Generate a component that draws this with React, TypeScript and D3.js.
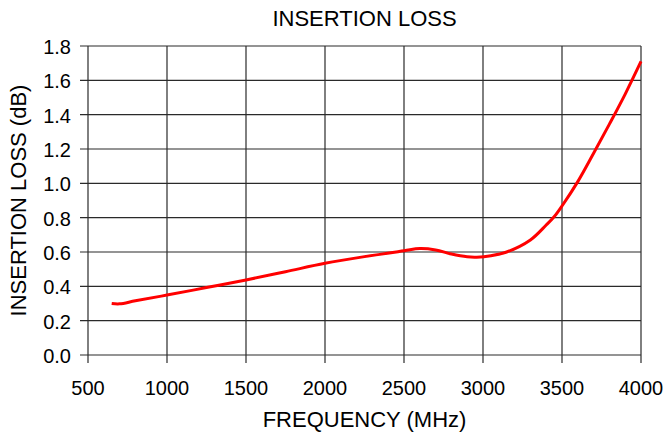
import { useRef, useEffect } from 'react';
import * as d3 from 'd3';

// Insertion loss curve
const frequencyMHz = [
  650, 700, 800, 1000, 1250, 1500, 1750, 2000, 2250, 2500, 2600, 2700, 2800, 2900, 2960,
  3050, 3150, 3300, 3400, 3450, 3500, 3600, 3700, 3800, 3900, 4000,
];
const lossDb = [
  0.3, 0.298, 0.316, 0.349, 0.393, 0.437, 0.485, 0.534, 0.573, 0.607, 0.62, 0.612, 0.588,
  0.572, 0.57, 0.578, 0.6, 0.67, 0.757, 0.805, 0.868, 1.01, 1.175, 1.345, 1.52, 1.71,
];

const xTicks = [500, 1000, 1500, 2000, 2500, 3000, 3500, 4000];
const yTicks = [0, 0.2, 0.4, 0.6, 0.8, 1.0, 1.2, 1.4, 1.6, 1.8];

const chartTitle = 'INSERTION LOSS';
const xTitle = 'FREQUENCY (MHz)';
const yTitle = 'INSERTION LOSS (dB)';

const WIDTH = 667;
const HEIGHT = 433;

export default function App() {
  const svgRef = useRef<SVGSVGElement>(null);

  useEffect(() => {
    if (!svgRef.current) return;
    const svg = d3.select(svgRef.current);
    svg.selectAll('*').remove();

    const margin = { top: 46, right: 26, bottom: 78, left: 88 };
    const innerWidth = WIDTH - margin.left - margin.right;
    const innerHeight = HEIGHT - margin.top - margin.bottom;
    const font = 'Arial, "Liberation Sans", sans-serif';

    svg.append('rect').attr('width', WIDTH).attr('height', HEIGHT).attr('fill', '#fff');

    const g = svg.append('g').attr('transform', `translate(${margin.left},${margin.top})`);

    const xScale = d3.scaleLinear().domain([500, 4000]).range([0, innerWidth]);
    const yScale = d3.scaleLinear().domain([0, 1.8]).range([innerHeight, 0]);

    // grid + tick marks
    yTicks.forEach((t) => {
      g.append('line')
        .attr('x1', -8)
        .attr('x2', innerWidth)
        .attr('y1', yScale(t))
        .attr('y2', yScale(t))
        .attr('stroke', '#2a2a2a')
        .attr('stroke-width', 1.2);
      g.append('text')
        .attr('x', -17)
        .attr('y', yScale(t) + 8)
        .attr('text-anchor', 'end')
        .attr('font-family', font)
        .attr('font-size', '20px')
        .attr('fill', '#000')
        .text(t.toFixed(1));
    });

    xTicks.forEach((t) => {
      g.append('line')
        .attr('x1', xScale(t))
        .attr('x2', xScale(t))
        .attr('y1', 0)
        .attr('y2', innerHeight + 8)
        .attr('stroke', '#2a2a2a')
        .attr('stroke-width', 1.2);
      g.append('text')
        .attr('x', xScale(t))
        .attr('y', innerHeight + 40)
        .attr('text-anchor', 'middle')
        .attr('font-family', font)
        .attr('font-size', '20px')
        .attr('fill', '#000')
        .text(String(t));
    });

    // data line
    const points = frequencyMHz.map((f, i) => ({ x: f, y: lossDb[i] }));
    const line = d3
      .line<{ x: number; y: number }>()
      .x((d) => xScale(d.x))
      .y((d) => yScale(d.y))
      .curve(d3.curveCatmullRom.alpha(0.5));

    g.append('path')
      .datum(points)
      .attr('d', line)
      .attr('fill', 'none')
      .attr('stroke', '#ff0000')
      .attr('stroke-width', 3)
      .attr('stroke-linejoin', 'round');

    // titles
    svg.append('text')
      .attr('x', margin.left + innerWidth / 2)
      .attr('y', 26)
      .attr('text-anchor', 'middle')
      .attr('font-family', font)
      .attr('font-size', '22px')
      .attr('fill', '#000')
      .text(chartTitle);

    svg.append('text')
      .attr('x', margin.left + innerWidth / 2)
      .attr('y', 427)
      .attr('text-anchor', 'middle')
      .attr('font-family', font)
      .attr('font-size', '22px')
      .attr('fill', '#000')
      .text(xTitle);

    svg.append('text')
      .attr('transform', `translate(26,${margin.top + innerHeight / 2}) rotate(-90)`)
      .attr('text-anchor', 'middle')
      .attr('font-family', font)
      .attr('font-size', '22px')
      .attr('fill', '#000')
      .text(yTitle);
  }, []);

  return (
    <svg
      ref={svgRef}
      width={WIDTH}
      height={HEIGHT}
      style={{ position: 'absolute', left: 0, top: 0, display: 'block' }}
    />
  );
}
